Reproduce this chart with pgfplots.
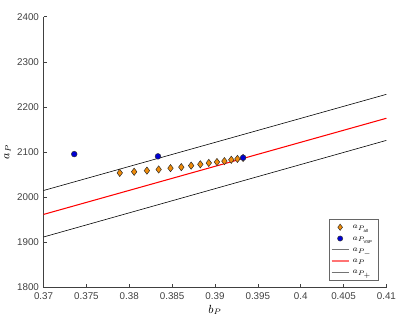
\documentclass[border=0pt]{standalone}
\usepackage{fontspec}
\setmainfont{Liberation Sans}
\usepackage{pgfplots}
\pgfplotsset{compat=1.18}

\definecolor{mlorange}{RGB}{240,140,10}
\definecolor{mlblue}{RGB}{0,0,210}
\definecolor{axgray}{gray}{0.25}

\begin{document}
\begin{tikzpicture}
\begin{axis}[
  name=ax,
  scale only axis,
  width=262pt, height=207pt,
  xmin=0.37, xmax=0.41,
  ymin=1800, ymax=2400,
  xtick={0.37,0.375,...,0.411},
  ytick={1800,1900,...,2400},
  axis x line*=bottom,
  axis y line*=left,
  axis line style={axgray, line width=0.4pt},
  tick align=inside,
  major tick length=3pt,
  tick style={axgray, line width=0.4pt},
  every tick label/.append style={font=\fontsize{7.5}{8}\selectfont, text=black!75},
  /pgf/number format/assume math mode=true,
  xticklabel style={/pgf/number format/fixed, /pgf/number format/precision=3},
  yticklabel style={/pgf/number format/fixed, /pgf/number format/1000 sep={}},
  xlabel={$b_P$},
  ylabel={$a_P$},
  every axis label/.append style={font=\small},
  xlabel style={yshift=2pt},
  ylabel style={yshift=-2pt},
  legend style={
    at={(0.978,0.025)}, anchor=south east,
    draw=black!60, line width=0.4pt,
    font=\fontsize{6.5}{7}\selectfont,
    inner xsep=1.5pt, inner ysep=2pt,
    row sep=0pt,
    nodes={text height=4.2pt, text depth=1.6pt, inner ysep=1.4pt, inner xsep=2.5pt},
    cells={anchor=west},
  },
  legend image code/.code={
    \draw[mark repeat=2, mark phase=2, #1] plot coordinates {(0cm,0cm) (0.23cm,0cm) (0.46cm,0cm)};
  },
  clip=false,
]
  % diamonds: a_{P_all}
  \addplot[only marks, mark=diamond*, mark size=2.8pt,
    mark options={fill=mlorange, draw=black!85, line width=0.35pt},
    forget plot] coordinates {
    (0.37889,2054) (0.38057,2056.5) (0.38206,2059) (0.38343,2061.6)
    (0.38481,2064.5) (0.38607,2066.7) (0.38722,2070) (0.38829,2073)
    (0.38928,2076) (0.39023,2078) (0.39110,2080) (0.39190,2083)
    (0.39262,2085) (0.39328,2087)
  };
  % lines
  \addplot[black, line width=0.45pt, forget plot] coordinates {(0.37,2015) (0.41,2228)};
  \addplot[red, line width=0.8pt, forget plot] coordinates {(0.37,1962) (0.41,2175)};
  \addplot[black, line width=0.45pt, forget plot] coordinates {(0.37,1912) (0.41,2126)};
  % VSP points
  \addplot[only marks, mark=*, mark size=2.2pt,
    mark options={fill=mlblue, draw=black!80, line width=0.35pt},
    forget plot] coordinates {
    (0.37358,2095.6) (0.38335,2090.6) (0.39328,2087.6)
  };

  % legend entries
  \addlegendimage{only marks, mark=diamond*, mark size=2.4pt,
    mark options={fill=mlorange, draw=black!85, line width=0.35pt}}
  \addlegendentry{$a_{P_{\mathrm{all}}}$}
  \addlegendimage{only marks, mark=*, mark size=2pt,
    mark options={fill=mlblue, draw=black!80, line width=0.35pt}}
  \addlegendentry{$a_{P_{\mathrm{VSP}}}$}
  \addlegendimage{black!55, line width=0.45pt, no marks}
  \addlegendentry{$a_{P_-}$}
  \addlegendimage{red!55, line width=0.8pt, no marks}
  \addlegendentry{$a_P$}
  \addlegendimage{black!55, line width=0.45pt, no marks}
  \addlegendentry{$a_{P_+}$}
\end{axis}
\path[use as bounding box] (ax.south west) ++(-27.5pt,-21.75pt) rectangle ++(305.25pt,241.5pt);
\end{tikzpicture}
\end{document}
